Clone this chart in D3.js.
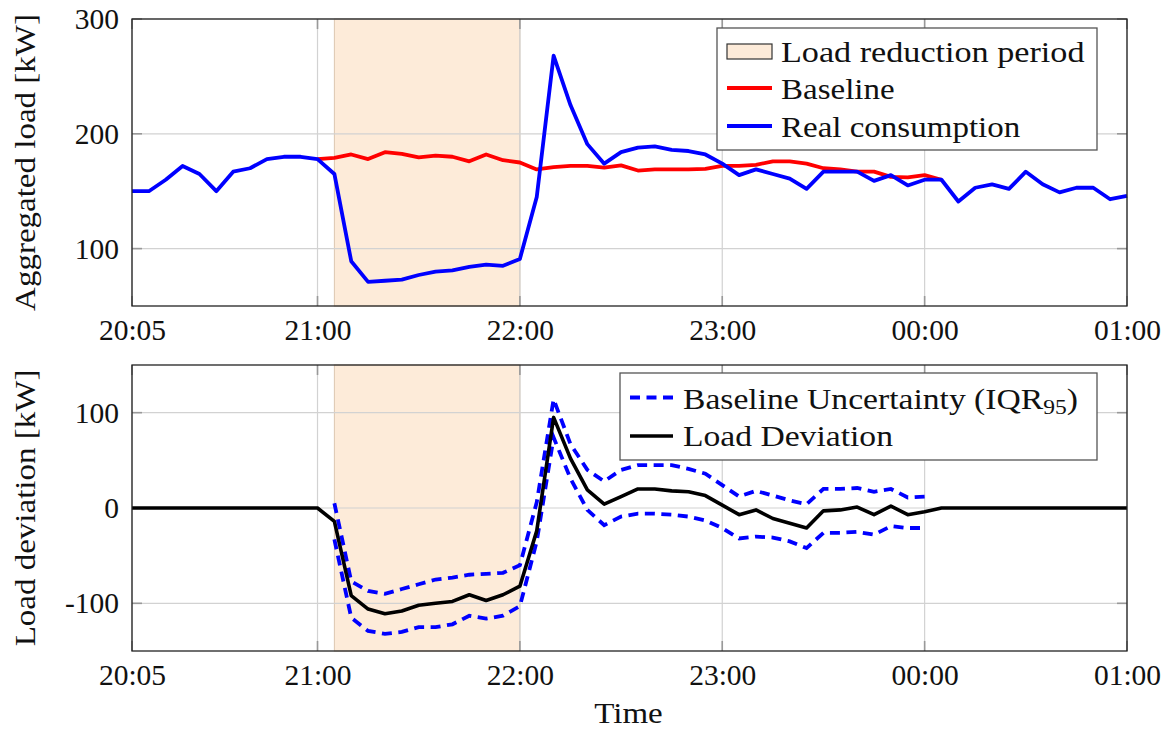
<!DOCTYPE html>
<html lang="en">
<head>
<meta charset="UTF-8">
<title>Load reduction event</title>
<script src="https://d3js.org/d3.v7.min.js"></script>
<style>
  body { margin: 0; background: #fff; }
  svg text { font-family: "Liberation Serif", "DejaVu Serif", serif; fill: #111; }
</style>
</head>
<body>
<svg id="chart" width="1173" height="731"></svg>
<script>
// time axis: one sample every 5 minutes from 20:05 to 01:00
const startTime = new Date(2023, 0, 1, 20, 5);
const endTime = new Date(2023, 0, 2, 1, 0);
const times = d3.timeMinute.every(5).range(startTime, d3.timeMinute.offset(endTime, 1));
const eventStart = new Date(2023, 0, 1, 21, 5);
const eventEnd = new Date(2023, 0, 1, 22, 0);
const xTicks = [startTime, new Date(2023, 0, 1, 21, 0), new Date(2023, 0, 1, 22, 0),
                new Date(2023, 0, 1, 23, 0), new Date(2023, 0, 2, 0, 0), endTime];
const topTicks = [100, 200, 300];
const bottomTicks = [-100, 0, 100];

// top panel [kW]
const realConsumption = [150, 150, 160, 172, 165, 150, 167, 170, 178, 180, 180, 178,
  165, 89, 71, 72, 73, 77, 80, 81, 84, 86, 85, 91,
  145, 268, 225, 191, 174, 184, 188, 189, 186, 185, 182, 174,
  164, 169, 165, 161, 152, 167, 167, 167, 159, 164, 155, 160,
  160, 141, 153, 156, 152, 167, 156, 149, 153, 153, 143, 146];
const baselineFrom = 11; // baseline drawn from 21:00 to 00:05
const baseline = [178, 179, 182, 178, 184, 182.5, 179.5, 181, 180, 176, 182, 177, 175,
  169, 171, 172, 172, 170.5, 172.5, 168, 169, 169, 169, 169.5, 172,
  172, 173, 176, 176, 174, 170, 169, 167, 167, 162.5, 162, 164, 160];

// bottom panel [kW]
const loadDeviation = [0, 0, 0, 0, 0, 0, 0, 0, 0, 0, 0, 0,
  -14, -92, -106, -111, -108, -102, -100, -98, -91, -97, -91, -82,
  -24, 95, 52, 19, 4, 12, 20, 20, 18, 17, 13, 3,
  -7, -2, -11, -16, -21, -3, -2, 1, -7, 2, -7, -4,
  0, 0, 0, 0, 0, 0, 0, 0, 0, 0, 0, 0];
const bandFrom = 12; // uncertainty band drawn from 21:05 to 00:00
const upperBound = [5, -77, -87, -90, -85, -80, -75, -73, -70, -69, -68, -60,
  6, 114, 67, 40, 28, 40, 45, 45, 45, 41, 36, 24,
  12, 18, 13, 8, 4, 20, 20, 21, 17, 20, 11, 12];
const lowerBound = [-33, -115, -129, -132, -130, -125, -125, -122, -113, -116, -113, -103,
  -35, 74, 31, -2, -18, -9, -6, -6, -7, -9, -13, -21,
  -32, -30, -31, -35, -42, -26, -26, -25, -28, -19, -21, -21];

const svg = d3.select("#chart");
const left = 132, right = 1127;
const shadeColor = "#fdebd9";
const textSize = 30;

const x = d3.scaleTime().domain([startTime, endTime]).range([left, right]);
const yTop = d3.scaleLinear().domain([50, 300]).range([306, 19]);
const yBottom = d3.scaleLinear().domain([-150, 150]).range([651, 365]);

// CM is wider than Times, stretch text a bit
function widen(sel, k) {
    sel.each(function() {
        const w = this.getComputedTextLength();
        d3.select(this).attr("textLength", w * k).attr("lengthAdjust", "spacingAndGlyphs");
    });
}

function drawFrame(y, yTicks) {
    const [y1, y0] = y.range();
    const g = svg.append("g");

    g.append("rect")
        .attr("x", x(eventStart)).attr("y", y0)
        .attr("width", x(eventEnd) - x(eventStart)).attr("height", y1 - y0)
        .attr("fill", shadeColor).attr("stroke", "#dcc6b0").attr("stroke-width", 1);

    g.selectAll(".vgrid").data(xTicks).join("line")
        .attr("x1", d => x(d)).attr("x2", d => x(d))
        .attr("y1", y0).attr("y2", y1)
        .attr("stroke", "#d2d2d2").attr("stroke-width", 1.2);
    g.selectAll(".hgrid").data(yTicks).join("line")
        .attr("x1", left).attr("x2", right)
        .attr("y1", d => y(d)).attr("y2", d => y(d))
        .attr("stroke", "#d2d2d2").attr("stroke-width", 1.2);

    // small inner tick marks
    const tk = 10;
    xTicks.forEach(d => {
        g.append("line").attr("x1", x(d)).attr("x2", x(d)).attr("y1", y1).attr("y2", y1 - tk)
            .attr("stroke", "#999").attr("stroke-width", 1.6);
        g.append("line").attr("x1", x(d)).attr("x2", x(d)).attr("y1", y0).attr("y2", y0 + tk)
            .attr("stroke", "#999").attr("stroke-width", 1.6);
    });
    yTicks.forEach(d => {
        g.append("line").attr("x1", left).attr("x2", left + tk).attr("y1", y(d)).attr("y2", y(d))
            .attr("stroke", "#999").attr("stroke-width", 1.6);
        g.append("line").attr("x1", right).attr("x2", right - tk).attr("y1", y(d)).attr("y2", y(d))
            .attr("stroke", "#999").attr("stroke-width", 1.6);
    });

    // tick labels
    const ax = svg.append("g")
        .attr("transform", `translate(0,${y1})`)
        .call(d3.axisBottom(x).tickValues(xTicks).tickFormat(d3.timeFormat("%H:%M"))
            .tickSize(0).tickPadding(13));
    const ay = svg.append("g")
        .attr("transform", `translate(${left},0)`)
        .call(d3.axisLeft(y).tickValues(yTicks).tickFormat(d => String(d))
            .tickSize(0).tickPadding(13));
    [ax, ay].forEach(a => {
        a.select(".domain").remove();
        a.attr("font-family", null).attr("font-size", null);
        a.selectAll("text").attr("font-size", 29.5).attr("fill", "#111");
    });
    return g;
}

function drawBorder(y) {
    const [y1, y0] = y.range();
    svg.append("rect")
        .attr("x", left).attr("y", y0).attr("width", right - left).attr("height", y1 - y0)
        .attr("fill", "none").attr("stroke", "#222").attr("stroke-width", 1.3);
}

function seriesLine(y, from) {
    return d3.line().x((d, i) => x(times[i + from])).y(d => y(d));
}

// ---------- top panel ----------
drawFrame(yTop, topTicks);
svg.append("path").datum(baseline)
    .attr("d", seriesLine(yTop, baselineFrom))
    .attr("fill", "none").attr("stroke", "#ff0000").attr("stroke-width", 3.8)
    .attr("stroke-linejoin", "round");
svg.append("path").datum(realConsumption)
    .attr("d", seriesLine(yTop, 0))
    .attr("fill", "none").attr("stroke", "#0000ff").attr("stroke-width", 3.8)
    .attr("stroke-linejoin", "round");
drawBorder(yTop);

// ---------- bottom panel ----------
drawFrame(yBottom, bottomTicks);
[upperBound, lowerBound].forEach(b => {
    svg.append("path").datum(b)
        .attr("d", seriesLine(yBottom, bandFrom))
        .attr("fill", "none").attr("stroke", "#0000ff").attr("stroke-width", 3.8)
        .attr("stroke-dasharray", "10,6.5");
});
svg.append("path").datum(loadDeviation)
    .attr("d", seriesLine(yBottom, 0))
    .attr("fill", "none").attr("stroke", "#000").attr("stroke-width", 3.6)
    .attr("stroke-linejoin", "round");
drawBorder(yBottom);

// ---------- axis titles ----------
const titles = svg.append("g").attr("font-size", textSize);
titles.append("text")
    .attr("transform", `translate(35,${(yTop.range()[0] + yTop.range()[1]) / 2}) rotate(-90)`)
    .attr("text-anchor", "middle").attr("fill", "#3c3c3c")
    .text("Aggregated load [kW]");
titles.append("text")
    .attr("transform", `translate(35,${(yBottom.range()[0] + yBottom.range()[1]) / 2}) rotate(-90)`)
    .attr("text-anchor", "middle").attr("fill", "#3c3c3c")
    .text("Load deviation [kW]");
titles.append("text")
    .attr("x", (left + right) / 2 - 1).attr("y", 723)
    .attr("text-anchor", "middle").attr("fill", "#3c3c3c")
    .text("Time");
widen(titles.selectAll("text"), 1.1);

// ---------- legends ----------
const lg1 = svg.append("g").attr("font-size", textSize);
lg1.append("rect").attr("x", 717).attr("y", 28).attr("width", 380).attr("height", 122)
    .attr("fill", "#fff").attr("stroke", "#555").attr("stroke-width", 1.3);
lg1.append("rect").attr("x", 727).attr("y", 44).attr("width", 45).attr("height", 15)
    .attr("fill", shadeColor).attr("stroke", "#333").attr("stroke-width", 1.2);
lg1.append("line").attr("x1", 727).attr("x2", 772).attr("y1", 88).attr("y2", 88)
    .attr("stroke", "#ff0000").attr("stroke-width", 3.8);
lg1.append("line").attr("x1", 727).attr("x2", 772).attr("y1", 126).attr("y2", 126)
    .attr("stroke", "#0000ff").attr("stroke-width", 3.8);
const lg1Labels = ["Load reduction period", "Baseline", "Real consumption"];
lg1.selectAll(".lab").data(lg1Labels).join("text")
    .attr("x", 781).attr("y", (d, i) => 61.5 + i * 37.5)
    .text(d => d);
widen(lg1.selectAll("text"), 1.1);
// first entry is a little wider in the reference
widen(lg1.select("text"), 1.035);

const lg2 = svg.append("g").attr("font-size", textSize);
lg2.append("rect").attr("x", 620).attr("y", 373).attr("width", 477).attr("height", 87)
    .attr("fill", "#fff").attr("stroke", "#555").attr("stroke-width", 1.3);
lg2.append("line").attr("x1", 630).attr("x2", 673).attr("y1", 397.5).attr("y2", 397.5)
    .attr("stroke", "#0000ff").attr("stroke-width", 3.8).attr("stroke-dasharray", "10,6.5");
lg2.append("line").attr("x1", 630).attr("x2", 673).attr("y1", 436).attr("y2", 436)
    .attr("stroke", "#000").attr("stroke-width", 3.6);
const t1 = lg2.append("text").attr("x", 683).attr("y", 408.5);
t1.append("tspan").text("Baseline Uncertainty (IQR");
t1.append("tspan").attr("font-size", 21).attr("dy", 5).text("95");
t1.append("tspan").attr("dy", -5).text(")");
lg2.append("text").attr("x", 683).attr("y", 446).text("Load Deviation");
widen(lg2.selectAll("text"), 1.12);
</script>
</body>
</html>
